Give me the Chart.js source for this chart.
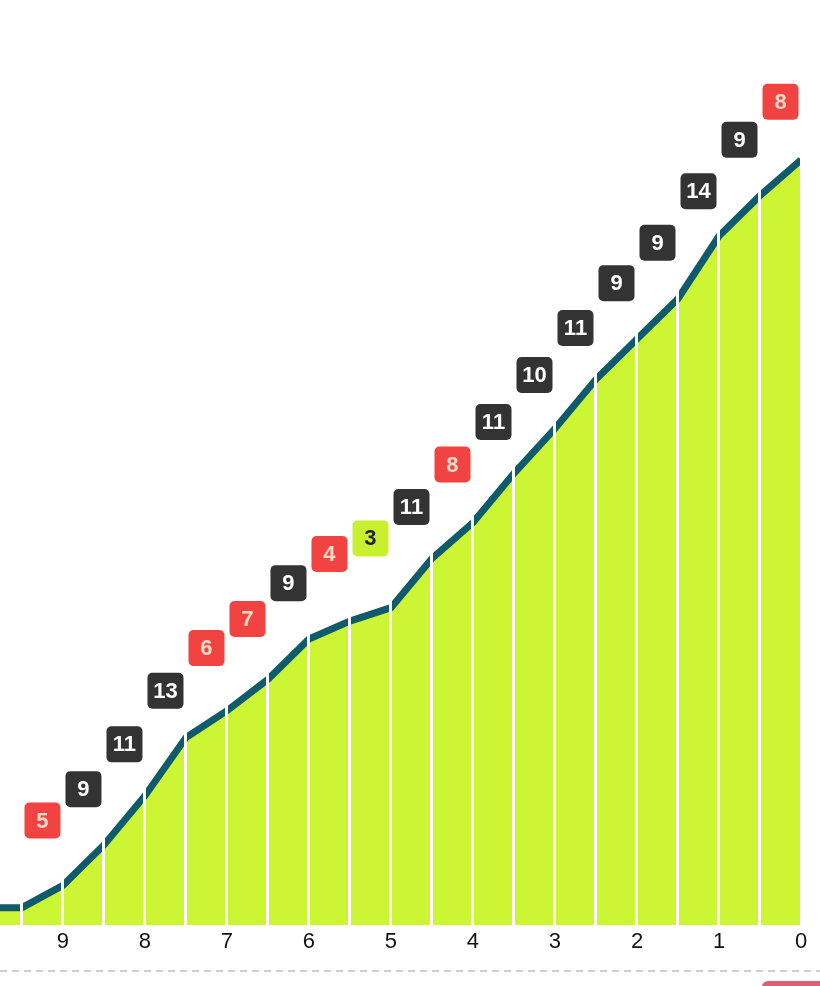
<!DOCTYPE html>
<html>
<head>
<meta charset="utf-8">
<script src="https://cdn.jsdelivr.net/npm/chart.js@4"></script>
<style>
  html, body { margin: 0; padding: 0; background: #fff; }
  #wrap { position: relative; width: 820px; height: 986px; overflow: hidden; }
  #box { position: absolute; left: 0; top: 0; width: 820px; height: 960px; }
  #dash {
    position: absolute; left: 0; top: 970px; width: 820px; height: 2px;
    background: repeating-linear-gradient(to right, #cfcfcf 0 7px, transparent 7px 12px);
  }
  #btn {
    position: absolute; left: 762px; top: 981px; width: 80px; height: 30px;
    background: #e85a72; border-radius: 6px;
  }
</style>
</head>
<body>
<div id="wrap">
  <div id="box"><canvas id="worm"></canvas></div>
  <div id="dash"></div>
  <div id="btn"></div>
</div>
<script>
  // overs (counting down), running total at each half over, runs in each half over
  const overs = [10, 9.5, 9, 8.5, 8, 7.5, 7, 6.5, 6, 5.5, 5, 4.5, 4, 3.5, 3, 2.5, 2, 1.5, 1, 0.5, 0];
  const totals = [4, 4, 9, 18, 29, 42, 48, 55, 64, 68, 71, 82, 90, 101, 111, 122, 131, 140, 154, 163, 171];
  const runs = [null, 5, 9, 11, 13, 6, 7, 9, 4, 3, 11, 8, 11, 10, 11, 9, 9, 14, 9, 8];
  const tickLabels = [9, 8, 7, 6, 5, 4, 3, 2, 1, 0];

  function boxColor(v) {
    if (v <= 3) return { bg: "#c8f02e", fg: "#222222" };
    if (v <= 8) return { bg: "#f24343", fg: "#fdd9c6" };
    return { bg: "#333333", fg: "#ffffff" };
  }

  // little rounded boxes with the runs of each half over, above the line
  const runBoxes = {
    id: "runBoxes",
    afterDraw(chart) {
      const ctx = chart.ctx;
      const xs = chart.scales.x;
      const ys = chart.scales.y;
      ctx.save();
      ctx.font = "bold 22px 'Liberation Sans', Arial, sans-serif";
      ctx.textAlign = "center";
      ctx.textBaseline = "middle";
      for (let i = 0; i < runs.length; i++) {
        if (runs[i] === null) continue;
        const cx = xs.getPixelForValue((overs[i] + overs[i + 1]) / 2);
        const cy = ys.getPixelForValue((totals[i] + totals[i + 1]) / 2) - 76;
        const c = boxColor(runs[i]);
        ctx.fillStyle = c.bg;
        ctx.beginPath();
        ctx.roundRect(cx - 18, cy - 18, 36, 36, 5);
        ctx.fill();
        ctx.fillStyle = c.fg;
        ctx.fillText(String(runs[i]), cx, cy + 1);
      }
      ctx.restore();
    }
  };

  const ctx = document.getElementById("worm").getContext("2d");
  new Chart(ctx, {
    type: "line",
    data: {
      datasets: [
        {
          data: overs.map((o, i) => ({ x: o, y: totals[i] })),
          borderColor: "#0f5a6b",
          borderWidth: 7,
          backgroundColor: "#ccf533",
          fill: "start",
          pointRadius: 0,
          tension: 0,
        },
      ],
    },
    options: {
      responsive: true,
      maintainAspectRatio: false,
      animation: false,
      layout: { padding: { left: 0, right: 19, top: 30, bottom: 2 } },
      plugins: { legend: { display: false }, tooltip: { enabled: false } },
      scales: {
        x: {
          type: "linear",
          reverse: true,
          min: 0,
          max: 9.768,
          border: { display: false },
          grid: { color: "#ffffff", lineWidth: 3, drawTicks: false, z: 1 },
          ticks: {
            stepSize: 0.5,
            includeBounds: false,
            autoSkip: false,
            maxRotation: 0,
            padding: 3,
            color: "#111111",
            font: { size: 22, family: "'Liberation Sans', Arial, sans-serif" },
            callback: (v) => (tickLabels.includes(v) ? String(v) : ""),
          },
        },
        y: { display: false, min: 0, max: 200 },
      },
    },
    plugins: [runBoxes],
  });
</script>
</body>
</html>
